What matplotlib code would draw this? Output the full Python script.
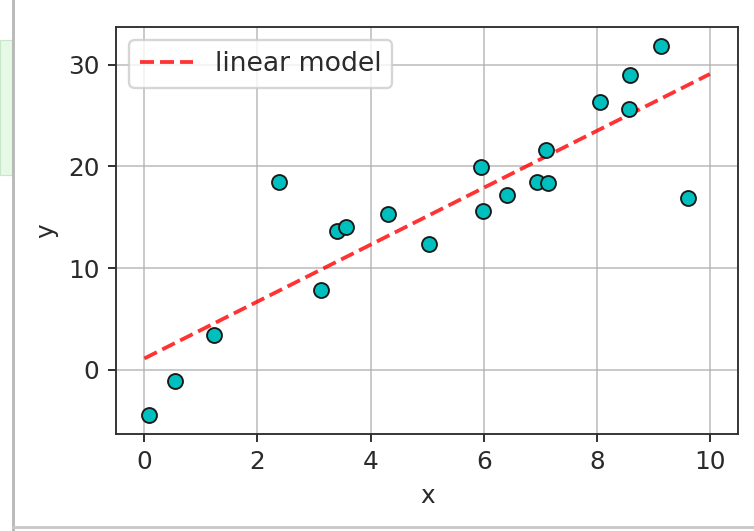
import matplotlib
matplotlib.use("Agg")
import matplotlib.pyplot as plt
from matplotlib.patches import Rectangle
from matplotlib.lines import Line2D
import numpy as np

# scatter data
x_data = [0.09, 0.55, 1.23, 2.38, 3.13, 3.40, 3.57, 4.31, 5.04, 5.95,
          5.99, 6.41, 6.95, 7.10, 7.13, 8.05, 8.57, 8.59, 9.14, 9.61]
y_data = [-4.5, -1.1, 3.4, 18.5, 7.8, 13.6, 14.0, 15.3, 12.4, 19.9,
          15.6, 17.2, 18.5, 21.6, 18.4, 26.3, 25.7, 29.0, 31.9, 16.9]

# linear model
x_fit = [0, 10]
y_fit = [1.1, 29.1]

plt.rcParams["text.color"] = "#2a2a2a"
plt.rcParams["axes.labelcolor"] = "#2a2a2a"
plt.rcParams["xtick.color"] = "#2a2a2a"
plt.rcParams["ytick.color"] = "#2a2a2a"
plt.rcParams["axes.edgecolor"] = "#303030"

DPI = 170
fig = plt.figure(figsize=(754 / DPI, 531 / DPI), dpi=DPI)
ax = fig.add_axes([0.154, 0.183, 0.825, 0.766])

ax.scatter(x_data, y_data, c="c", edgecolors="#1a1a1a", linewidths=0.8, s=40, zorder=3)
ax.plot(x_fit, y_fit, "r--", alpha=0.8, lw=1.6, label="linear model", zorder=2)

ax.set_xlabel("x", fontsize=10.5)
ax.set_ylabel("y", fontsize=10.5)
ax.set_xticks([0, 2, 4, 6, 8, 10])
ax.set_yticks([0, 10, 20, 30])
ax.tick_params(labelsize=10.5)
ax.grid(True, color="#b0b0b0", alpha=0.7)
ax.set_axisbelow(True)
ax.legend(loc="upper left", fontsize=11.3)

# screenshot frame bits
fig.add_artist(Rectangle((0, 1 - 175 / 531), 12 / 754, 135 / 531,
                         transform=fig.transFigure, facecolor="#e6f9e6",
                         edgecolor="#c8e6c8", linewidth=0.5))
fig.add_artist(Line2D([13 / 754, 13 / 754], [0, 1], transform=fig.transFigure,
                      color="#b8b8b8", linewidth=1.2))
fig.add_artist(Line2D([13 / 754, 1], [4 / 531, 4 / 531], transform=fig.transFigure,
                      color="#c8c8c8", linewidth=1.2))

fig.savefig("out.png", dpi=DPI)
